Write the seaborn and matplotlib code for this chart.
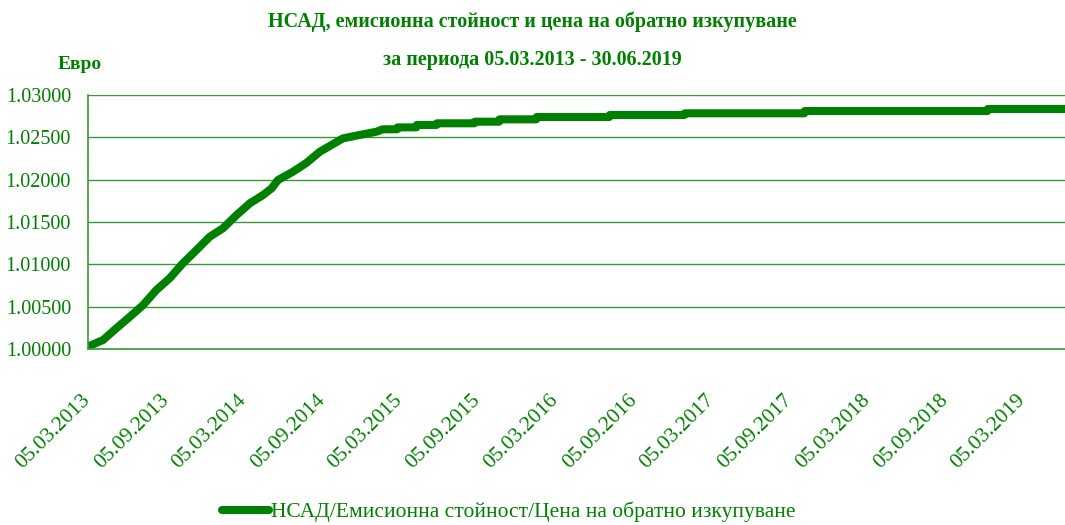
import pandas as pd
import seaborn as sns
import matplotlib.pyplot as plt
import matplotlib.dates as mdates

# NAV / issue price / redemption price
dates = [
    "2013-03-05", "2013-03-06", "2013-04-10", "2013-05-11", "2013-06-12", "2013-07-13",
    "2013-08-13", "2013-09-13", "2013-10-14", "2013-11-15", "2013-12-16",
    "2014-01-16", "2014-02-17", "2014-03-20", "2014-04-20", "2014-05-10",
    "2014-05-25", "2014-06-29", "2014-07-31", "2014-08-31", "2014-10-01",
    "2014-10-24", "2014-12-02", "2015-01-11", "2015-01-25", "2015-02-28",
    "2015-03-01", "2015-04-14", "2015-04-15", "2015-05-31", "2015-06-01",
    "2015-08-28", "2015-08-29", "2015-10-25", "2015-10-26", "2016-01-20",
    "2016-01-21", "2016-07-09", "2016-07-10", "2017-01-01", "2017-01-02",
    "2017-10-09", "2017-10-10", "2018-12-12", "2018-12-13", "2019-06-30",
]
values = [
    1.00020, 1.00030, 1.00106, 1.00244, 1.00382, 1.00520,
    1.00697, 1.00835, 1.01012, 1.01169, 1.01326,
    1.01426, 1.01583, 1.01721, 1.01819, 1.01898,
    1.01996, 1.02094, 1.02200, 1.02330, 1.02421,
    1.02488, 1.02528, 1.02567, 1.02595, 1.02595,
    1.02618, 1.02618, 1.02646, 1.02646, 1.02666,
    1.02666, 1.02685, 1.02685, 1.02713, 1.02713,
    1.02740, 1.02740, 1.02764, 1.02764, 1.02784,
    1.02784, 1.02811, 1.02811, 1.02835, 1.02835,
]
tick_dates = ["2013-03-05", "2013-09-05", "2014-03-05", "2014-09-05", "2015-03-05",
              "2015-09-05", "2016-03-05", "2016-09-05", "2017-03-05", "2017-09-05",
              "2018-03-05", "2018-09-05", "2019-03-05"]
y_ticks = [1.0, 1.005, 1.01, 1.015, 1.02, 1.025, 1.03]

series_label = "НСАД/Емисионна стойност/Цена на обратно изкупуване"
title = "НСАД, емисионна стойност и цена на обратно изкупуване\nза периода 05.03.2013 - 30.06.2019"

df = pd.DataFrame({"date": pd.to_datetime(dates), "value": values})

green = "#008000"
grid_green = "#3a9a3a"

sns.set_style("white")
plt.rcParams["font.family"] = ["Liberation Serif", "DejaVu Serif"]

fig = plt.figure(figsize=(10.65, 5.25), dpi=100)
ax = fig.add_axes([0.0823, 0.3352, 0.925, 0.4838])

sns.lineplot(data=df, x="date", y="value", ax=ax, color=green, linewidth=5.8,
             label=series_label, legend=False, solid_joinstyle="round")

ax.set_xlim(pd.Timestamp("2013-03-05"), pd.Timestamp("2019-06-30"))
ax.set_ylim(1.0, 1.03)
ax.set_yticks(y_ticks)
ax.set_yticklabels([f"{v:.5f}" for v in y_ticks])
ax.set_xticks(pd.to_datetime(tick_dates))
ax.xaxis.set_major_formatter(mdates.DateFormatter("%d.%m.%Y"))

ax.grid(axis="y", color=grid_green, linewidth=1.0)
ax.grid(axis="x", visible=False)
for side in ["top", "right"]:
    ax.spines[side].set_visible(False)
for side in ["left", "bottom"]:
    ax.spines[side].set_color(grid_green)
    ax.spines[side].set_linewidth(1.2)

ax.tick_params(axis="y", colors=green, labelsize=14.5, direction="inout", length=12, width=1, pad=6)
ax.tick_params(axis="x", colors=green, labelsize=15.5, direction="out", length=6, width=1, pad=29)
for lbl in ax.get_xticklabels():
    lbl.set_rotation(45)
    lbl.set_ha("right")
    lbl.set_va("center")
    lbl.set_rotation_mode("anchor")

ax.set_xlabel("")
ax.set_ylabel("")

fig.text(0.5, 0.978, title, ha="center", va="top", color=green, fontsize=14.5,
         fontweight="bold", linespacing=2.2)
fig.text(0.054, 0.878, "Евро", ha="left", va="center", color=green, fontsize=14,
         fontweight="bold")

handles, labels = ax.get_legend_handles_labels()
fig.legend(handles, labels, loc="center", bbox_to_anchor=(0.4775, 0.025), frameon=False,
           fontsize=15.5, labelcolor=green, handlelength=2.2, handletextpad=0.1)

fig.savefig("out.png", dpi=100)
